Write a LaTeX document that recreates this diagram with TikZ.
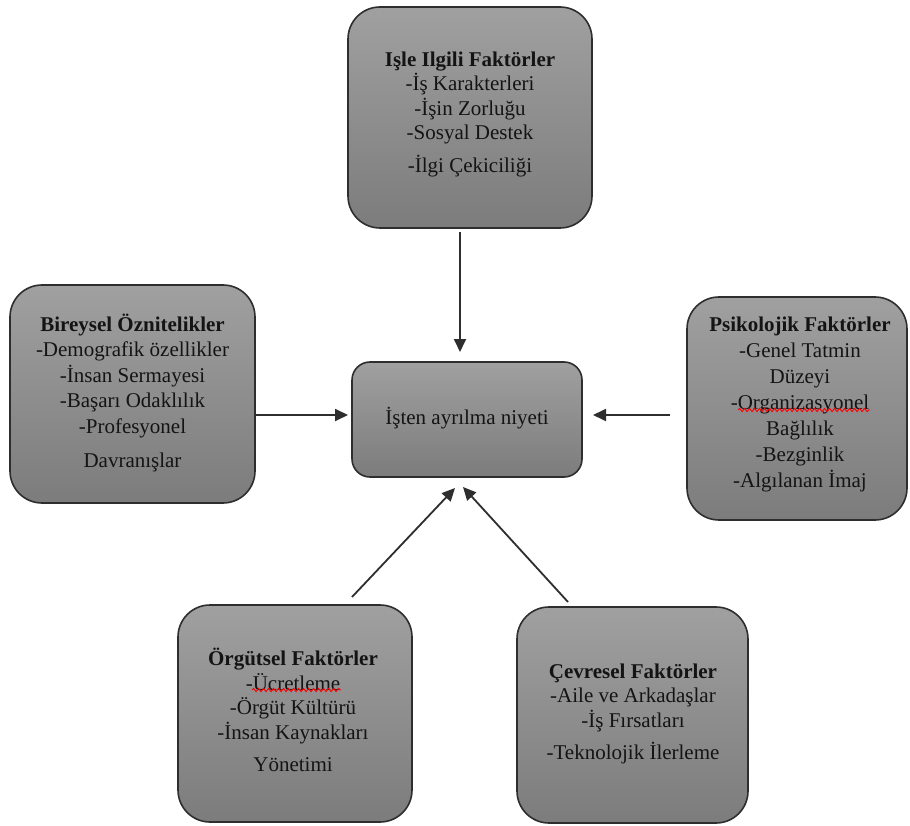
\documentclass[tikz,border=0pt]{standalone}
\usepackage{fontspec}
\setmainfont{Liberation Serif}
\usetikzlibrary{arrows.meta,decorations.pathmorphing}
\definecolor{boxtop}{HTML}{A0A0A0}
\definecolor{boxbot}{HTML}{7C7C7C}
\definecolor{edge}{HTML}{2E2E2E}
\definecolor{ink}{HTML}{141414}
\begin{document}
\begin{tikzpicture}[x=1pt,y=-1pt,
  factor/.style={draw=edge, line width=1.6pt, rounded corners=32pt,
    top color=boxtop, bottom color=boxbot, inner sep=0pt},
  txtblock/.style={align=center, text=ink, inner sep=0pt,
    font=\fontsize{21}{24.5}\selectfont},
  wide/.style={font=\fontsize{21}{26}\selectfont},
  link/.style={draw=edge, line width=1.8pt, -{Triangle[length=13pt,width=12pt]}},
  spell/.style={draw=red, line width=0.9pt, decorate,
    decoration={snake, amplitude=1.6pt, segment length=5pt}}]

\useasboundingbox[fill=white] (0,0) rectangle (910,826);

% boxes
\node[factor, minimum width=244pt, minimum height=221pt] (isle)   at (470,117.5) {};
\node[factor, minimum width=245pt, minimum height=218pt] (birey)  at (132.5,394) {};
\node[factor, minimum width=230pt, minimum height=115pt, rounded corners=18pt] (niyet) at (467,419.5) {};
\node[factor, minimum width=220pt, minimum height=223pt] (psiko)  at (797,408.5) {};
\node[factor, minimum width=234pt, minimum height=217pt] (orgut)  at (295,713.5) {};
\node[factor, minimum width=231pt, minimum height=216pt] (cevre)  at (632.5,715) {};

% texts
\node[txtblock] (isleT) at (470,114) {\textbf{Işle Ilgili Faktörler}\\-İş Karakterleri\\-İşin Zorluğu\\-Sosyal Destek\\[8pt]-İlgi Çekiciliği};
\node[txtblock, font=\fontsize{21}{25.5}\selectfont] (bireyT) at (132.5,393) {\textbf{Bireysel Öznitelikler}\\-Demografik özellikler\\-İnsan Sermayesi\\-Başarı Odaklılık\\-Profesyonel\\[9pt]Davranışlar};
\node[txtblock] (niyetT) at (467,418) {İşten ayrılma niyeti};
\node[txtblock, wide] (psikoT) at (800,404) {\textbf{Psikolojik Faktörler}\\-Genel Tatmin\\Düzeyi\\-Organizasyonel\\Bağlılık\\-Bezginlik\\-Algılanan İmaj};
\node[txtblock] (orgutT) at (293,710) {\textbf{Örgütsel Faktörler}\\-Ücretleme\\-Örgüt Kültürü\\-İnsan Kaynakları\\[8pt]Yönetimi};
\node[txtblock] (cevreT) at (633,714) {\textbf{Çevresel Faktörler}\\-Aile ve Arkadaşlar\\-İş Fırsatları\\[8pt]-Teknolojik İlerleme};

% spell-check marks
\draw[spell] (738,410) -- (870,410);
\draw[spell] (252,690) -- (341,690);

% arrow end points
\coordinate (a1s) at (460,232);  \coordinate (a1e) at (460,352);
\coordinate (a2s) at (255,415);  \coordinate (a2e) at (348,415);
\coordinate (a3s) at (670,415);  \coordinate (a3e) at (593,415);
\coordinate (a4s) at (352,597);  \coordinate (a4e) at (455,488);
\coordinate (a5s) at (568,602);  \coordinate (a5e) at (463,487);

\draw[link] (a1s) -- (a1e);
\draw[link] (a2s) -- (a2e);
\draw[link] (a3s) -- (a3e);
\draw[link] (a4s) -- (a4e);
\draw[link] (a5s) -- (a5e);
\end{tikzpicture}
\end{document}
